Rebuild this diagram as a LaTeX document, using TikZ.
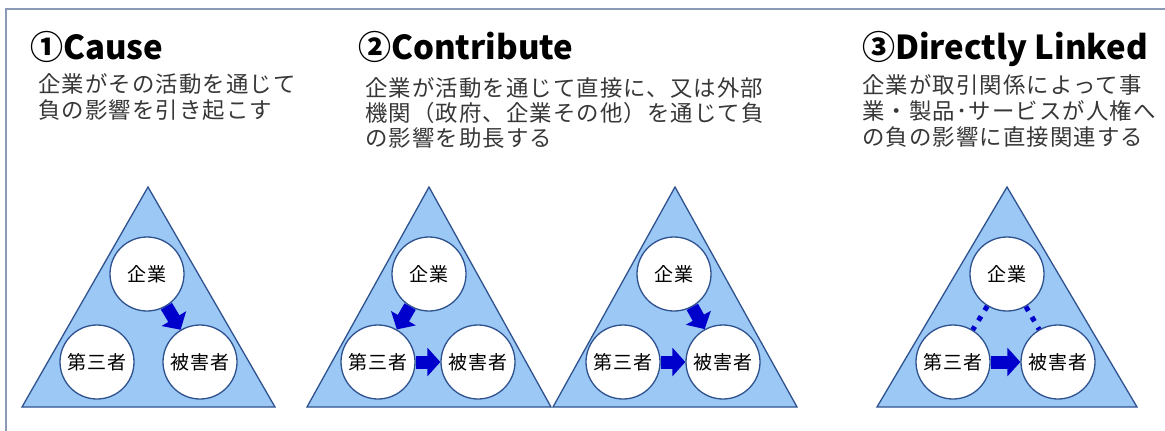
\documentclass[tikz,border=0pt]{standalone}
\usepackage{fontspec}
\setmainfont{Noto Sans CJK JP}
\newfontfamily\titlefam{Noto Sans CJK JP}
\newfontfamily\bodyfam{Noto Sans CJK JP}[LetterSpace=5]
\newfontfamily\labelfam{Noto Sans CJK JP}[LetterSpace=6]
\usetikzlibrary{arrows.meta}
\definecolor{trifill}{RGB}{155,200,245}
\definecolor{triedge}{RGB}{47,82,143}
\definecolor{arrowblue}{RGB}{0,0,204}
\definecolor{framecol}{RGB}{138,154,181}
\definecolor{bodygray}{RGB}{55,55,55}
\begin{document}
\begin{tikzpicture}[x=1pt,y=-1pt,
  tri/.style={draw=triedge, fill=trifill, line width=1.3pt, line join=miter},
  party/.style={circle, draw=triedge, fill=white, line width=1.3pt, minimum size=74pt, inner sep=0pt, font=\labelfam\fontsize{19}{22}\selectfont},
  harm/.style={draw=arrowblue, line width=13pt, -{Triangle[length=13pt,width=28pt]}},
  link/.style={draw=arrowblue, line width=5pt, dash pattern=on 5pt off 7pt},
  ttl/.style={anchor=base west, inner sep=0pt, font=\titlefam\bfseries\fontsize{33}{36}\selectfont},
  body/.style={anchor=base west, inner sep=0pt, text=bodygray, font=\bodyfam\fontsize{22.4}{25}\selectfont}]
\useasboundingbox (0,0) rectangle (1165,431);
\draw[framecol, line width=1.3pt] (6,431) -- (6,9) -- (1165,9);

% titles
\node[ttl] (t1) at (30,59) {①Cause};
\node[ttl] (t2) at (358,59) {②Contribute};
\node[ttl] (t3) at (862,59) {③Directly Linked};

% descriptions
\node[body] (d1a) at (38,92) {企業がその活動を通じて};
\node[body] (d1b) at (38,118) {負の影響を引き起こす};
\node[body] (d2a) at (365,96) {企業が活動を通じて直接に、又は外部};
\node[body] (d2b) at (365,121) {機関（政府、企業その他）を通じて負};
\node[body] (d2c) at (365,146) {の影響を助長する};
\node[body] (d3a) at (862,93) {企業が取引関係によって事};
\node[body] (d3b) at (862,119) {業・製品･サービスが人権へ};
\node[body] (d3c) at (862,145) {の負の影響に直接関連する};

% triangles
\draw[tri] (148,187) -- (275,407) -- (22,407) -- cycle;
\draw[tri] (429,187) -- (551,407) -- (307,407) -- cycle;
\draw[tri] (675,187) -- (797,407) -- (553,407) -- cycle;
\draw[tri] (1007,187) -- (1137,407) -- (877,407) -- cycle;

% panel 1
\node[party] (k1) at (147,274) {企業};
\node[party] (s1) at (97,362) {第三者};
\node[party] (v1) at (200,362) {被害者};
\draw[harm] (k1) -- (v1);

% panel 2a
\node[party] (k2) at (429,274) {企業};
\node[party] (s2) at (378,362) {第三者};
\node[party] (v2) at (478,362) {被害者};
\draw[harm] (k2) -- (s2);
\draw[harm] (s2) -- (v2);

% panel 2b
\node[party] (k3) at (674,274) {企業};
\node[party] (s3) at (623,362) {第三者};
\node[party] (v3) at (723,362) {被害者};
\draw[harm] (k3) -- (v3);
\draw[harm] (s3) -- (v3);

% panel 3
\node[party] (k4) at (1007,274) {企業};
\node[party] (s4) at (953,362) {第三者};
\node[party] (v4) at (1058,362) {被害者};
\draw[link] (k4) -- (s4);
\draw[link] (k4) -- (v4);
\draw[harm] (s4) -- (v4);
\end{tikzpicture}
\end{document}
